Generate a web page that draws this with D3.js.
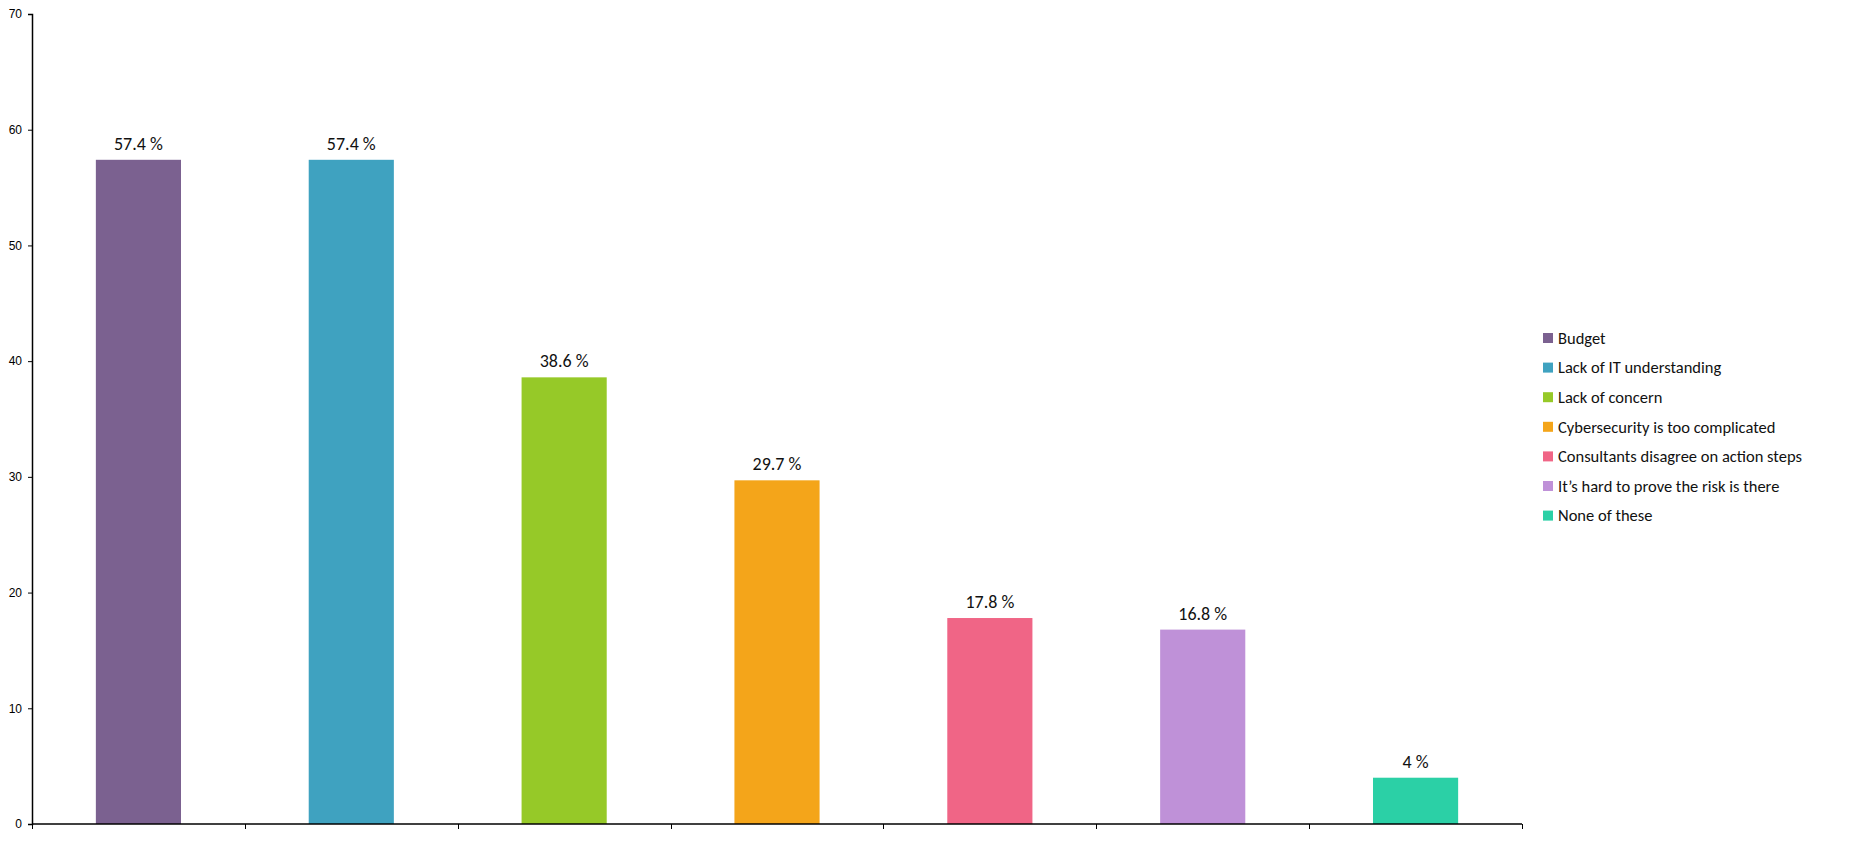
<!DOCTYPE html>
<html><head><meta charset="utf-8">
<script src="https://cdn.jsdelivr.net/npm/d3@7/dist/d3.min.js"></script>
<style>body{margin:0;background:#fff;}svg{display:block;}</style>
</head><body>
<svg id="chart" width="1849" height="852"></svg>
<script>
const categories = ["Budget","Lack of IT understanding","Lack of concern","Cybersecurity is too complicated","Consultants disagree on action steps","It\u2019s hard to prove the risk is there","None of these"];
const values = [57.4,57.4,38.6,29.7,17.8,16.8,4];
const colors = ["#7b6190","#3fa2c0","#96c928","#f4a51a","#f06586","#bf91d8","#2bd0a6"];
const yTicks = [0,10,20,30,40,50,60,70];

(function(){
const svg = d3.select("#chart");
const pLeft = 32, pRight = 1522, pTop = 14, pBottom = 824;
const x = d3.scaleBand().domain(categories).range([pLeft, pRight]).padding(0);
const y = d3.scaleLinear().domain([0,70]).range([pBottom, pTop]);
const barW = x.bandwidth()*0.4;
const labelFont = "Calibri, Carlito, Lato, sans-serif";

svg.selectAll("rect.bar").data(categories).join("rect")
  .attr("x", d => x(d) + (x.bandwidth()-barW)/2)
  .attr("y", (d,i) => y(values[i]))
  .attr("width", barW)
  .attr("height", (d,i) => y(0)-y(values[i]))
  .attr("fill", (d,i) => colors[i]);

svg.selectAll("text.val").data(categories).join("text")
  .attr("x", d => x(d) + x.bandwidth()/2)
  .attr("y", (d,i) => y(values[i]) - 10)
  .attr("text-anchor","middle")
  .attr("font-family", labelFont).attr("font-size", 18).attr("fill","#111")
  .text((d,i) => values[i] + " %");

const yAxis = svg.append("g").attr("transform",`translate(${pLeft},0)`)
  .call(d3.axisLeft(y).tickValues(yTicks).tickSize(4).tickPadding(6));
yAxis.select(".domain").attr("stroke","#000").attr("stroke-width",1.5);
yAxis.selectAll(".tick line").attr("stroke","#000");
yAxis.selectAll("text").attr("font-family","Liberation Sans, Arial, sans-serif").attr("font-size",12).attr("fill","#000");

const bounds = categories.map(d => x(d)).concat([pRight]);
const xg = svg.append("g");
xg.append("line").attr("x1",pLeft).attr("x2",pRight).attr("y1",pBottom).attr("y2",pBottom).attr("stroke","#000").attr("stroke-width",1.5);
xg.selectAll("line.t").data(bounds).join("line").attr("class","t")
  .attr("x1",d=>Math.round(d)+0.5).attr("x2",d=>Math.round(d)+0.5).attr("y1",pBottom).attr("y2",pBottom+5).attr("stroke","#000");

const lg = svg.append("g").attr("transform","translate(1543,338)");
const rows = lg.selectAll("g").data(categories).join("g").attr("transform",(d,i)=>`translate(0,${i*29.6})`);
rows.append("rect").attr("x",0).attr("y",-5).attr("width",10).attr("height",10).attr("fill",(d,i)=>colors[i]);
rows.append("text").attr("x",15).attr("y",0).attr("dy","0.35em")
  .attr("font-family",labelFont).attr("font-size",16.5).attr("fill","#111").text(d=>d);
})();
</script>
</body></html>
